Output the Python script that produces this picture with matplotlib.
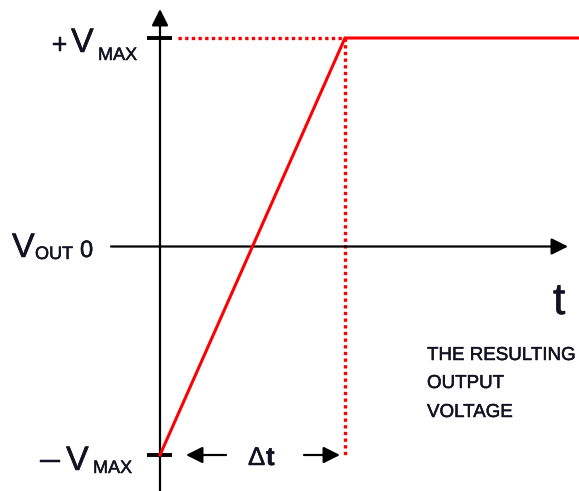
import matplotlib
matplotlib.use("Agg")
import matplotlib.pyplot as plt
import matplotlib.patheffects as pe

plt.rcParams['font.family'] = ['Liberation Sans', 'DejaVu Sans']

# ---- data (time in units of delta-t, voltage in units of V_MAX) ----
ramp_t = [0.0, 1.0, 2.27]
ramp_v = [-1.0, 1.0, 1.0]
dotted_h_t = [0.097, 1.0]
dotted_h_v = [1.0, 1.0]
dotted_v_t = [1.0, 1.0]
dotted_v_v = [1.0, -1.0]
tick_levels = [1.0, -1.0]

W, H = 579, 491
fig = plt.figure(figsize=(W / 100, H / 100), dpi=100)
ax = fig.add_axes([0, 0, 1, 1])
ax.axis('off')

# pixel geometry of the original
x0, xs = 160.0, 185.0       # t=0 pixel, px per unit t
y0, ys = 246.5, 208.5       # V=0 pixel, px per unit V
ax.set_xlim(-x0 / xs, (W - x0) / xs)
ax.set_ylim((y0 - H) / ys, y0 / ys)

def tx(px):
    return (px - x0) / xs

def vy(py):
    return (y0 - py) / ys

TXT = '#121222'
ARW = dict(arrowstyle='-|>,head_length=1.0,head_width=0.5',
           mutation_scale=10, lw=1.6, color='black', shrinkA=0, shrinkB=0)

# axes with arrowheads
ax.annotate('', xy=(0, vy(9)), xytext=(0, vy(495)), arrowprops=ARW)
ax.annotate('', xy=(tx(568), 0), xytext=(tx(111), 0), arrowprops=ARW)

# tick marks at +/- Vmax
for lv in tick_levels:
    ax.plot([tx(147), tx(172)], [lv, lv], color='black', lw=2.8,
            solid_capstyle='butt', zorder=3)

# red dotted guides
ax.plot(dotted_h_t, dotted_h_v, color='#ff0000', lw=2.4,
        linestyle=(0, (1, 1)), dash_capstyle='butt', zorder=2)
ax.plot(dotted_v_t, dotted_v_v, color='#ff0000', lw=2.4,
        linestyle=(0, (1, 1)), dash_capstyle='butt', zorder=2)

# red ramp output
ax.plot(ramp_t, ramp_v, color='#ff0000', lw=2.2, solid_joinstyle='miter',
        zorder=4)

# delta-t arrows
ax.annotate('', xy=(tx(186), -1), xytext=(tx(226), -1), arrowprops=ARW)
ax.annotate('', xy=(tx(340), -1), xytext=(tx(304), -1), arrowprops=ARW)

STROKE = [pe.withStroke(linewidth=0.35, foreground=TXT)]

def ptext(x, y, s, size, ha='left', va='baseline', **kw):
    fig.text(x / W, 1 - y / H, s, fontsize=size, ha=ha, va=va, color=TXT,
             path_effects=STROKE, **kw)

# +V_MAX
ptext(51.5, 53, '+', 20)
ptext(71, 52, 'V', 24.5)
ptext(98, 60, 'MAX', 13)
# V_OUT 0
ptext(12, 257, 'V', 24.5)
ptext(35, 259, 'OUT', 13)
ptext(80, 257, '0', 17)
# -V_MAX
ptext(40, 470, '\u2013', 26)
ptext(66, 470, 'V', 24.5)
ptext(93, 473, 'MAX', 13)
# delta t
ptext(248, 465, '\u0394', 18.5)
ptext(266, 465, 't', 18.5, fontweight='bold')
# t axis label
ptext(553, 314, 't', 32)
# note
ptext(427, 360, 'THE RESULTING', 13.5)
ptext(427, 388, 'OUTPUT', 13.5)
ptext(427, 417, 'VOLTAGE', 13.5)

fig.savefig('out.png', dpi=100)
